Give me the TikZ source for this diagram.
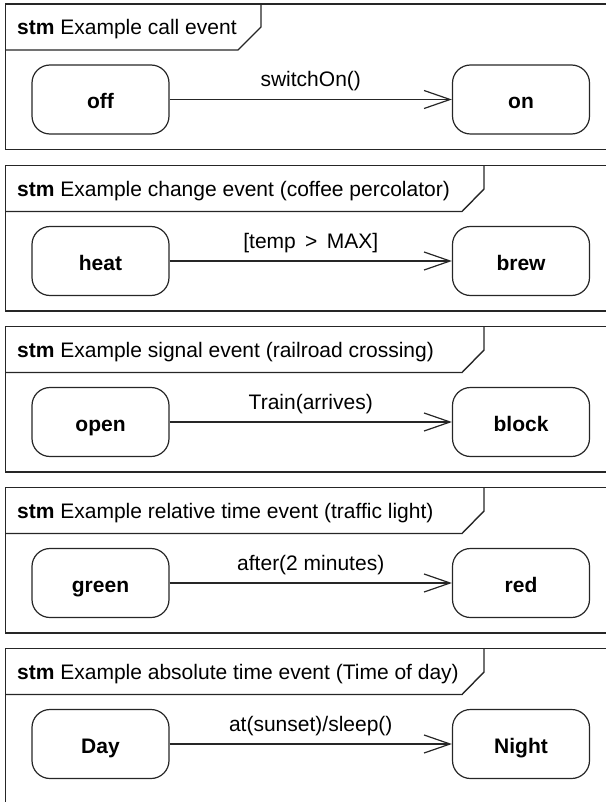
\documentclass[tikz,border=0pt]{standalone}
\usepackage{fontspec}
\setmainfont{Liberation Sans}
\usetikzlibrary{arrows.meta}
\tikzset{
  frameline/.style={draw=black!85, line width=1.4pt},
  statebox/.style={draw=black!85, line width=1.2pt, rounded corners=18pt, minimum width=137pt, minimum height=69pt, inner sep=0pt, text height=21pt, text depth=2pt, font=\fontsize{21}{25}\selectfont\bfseries},
  trans/.style={draw=black!85, line width=1.2pt, -{Straight Barb[length=26pt,width=18pt,line width=1.2pt]}},
  tlabel/.style={font=\fontsize{21}{25}\selectfont, inner sep=0pt, anchor=base, yshift=12.5pt},
  title/.style={font=\fontsize{21}{25}\selectfont, anchor=base west, inner sep=0pt}
}
\begin{document}
\begin{tikzpicture}[x=1pt,y=-1pt]
\useasboundingbox (0,0) rectangle (605,802);
% Frame 1
\draw[frameline] (625,4) -- (5.5,4) -- (5.5,149.5) -- (625,149.5);
\draw[frameline] (5.5,50) -- (238,50) -- (261,27) -- (261,4);
\node[title] (t1) at (17,35) {\textbf{stm} Example call event};
\node[statebox] (off) at (100.5,99.5) {off};
\node[statebox] (on) at (521,99.5) {on};
\draw[trans] (off) -- node[tlabel] (l1) {switchOn()} (on);
% Frame 2
\draw[frameline] (625,165.5) -- (5.5,165.5) -- (5.5,311) -- (625,311);
\draw[frameline] (5.5,211.5) -- (462,211.5) -- (484,189) -- (484,165.5);
\node[title] (t2) at (17,196.5) {\textbf{stm} Example change event (coffee percolator)};
\node[statebox] (heat) at (100.5,261) {heat};
\node[statebox] (brew) at (521,261) {brew};
\draw[trans] (heat) -- node[tlabel] (l2) {[temp \,>\, MAX]} (brew);
% Frame 3
\draw[frameline] (625,326.5) -- (5.5,326.5) -- (5.5,472) -- (625,472);
\draw[frameline] (5.5,372.5) -- (462,372.5) -- (484,350) -- (484,326.5);
\node[title] (t3) at (17,357.5) {\textbf{stm} Example signal event (railroad crossing)};
\node[statebox] (open) at (100.5,422) {open};
\node[statebox] (block) at (521,422) {block};
\draw[trans] (open) -- node[tlabel] (l3) {Train(arrives)} (block);
% Frame 4
\draw[frameline] (625,487.5) -- (5.5,487.5) -- (5.5,633) -- (625,633);
\draw[frameline] (5.5,533.5) -- (462,533.5) -- (484,511) -- (484,487.5);
\node[title] (t4) at (17,518.5) {\textbf{stm} Example relative time event (traffic light)};
\node[statebox] (green) at (100.5,583) {green};
\node[statebox] (red) at (521,583) {red};
\draw[trans] (green) -- node[tlabel] (l4) {after(2 minutes)} (red);
% Frame 5
\draw[frameline] (625,648.5) -- (5.5,648.5) -- (5.5,820);
\draw[frameline] (5.5,694.5) -- (462,694.5) -- (484,672) -- (484,648.5);
\node[title] (t5) at (17,679.5) {\textbf{stm} Example absolute time event (Time of day)};
\node[statebox] (day) at (100.5,744) {Day};
\node[statebox] (night) at (521,744) {Night};
\draw[trans] (day) -- node[tlabel] (l5) {at(sunset)/sleep()} (night);
\end{tikzpicture}
\end{document}
